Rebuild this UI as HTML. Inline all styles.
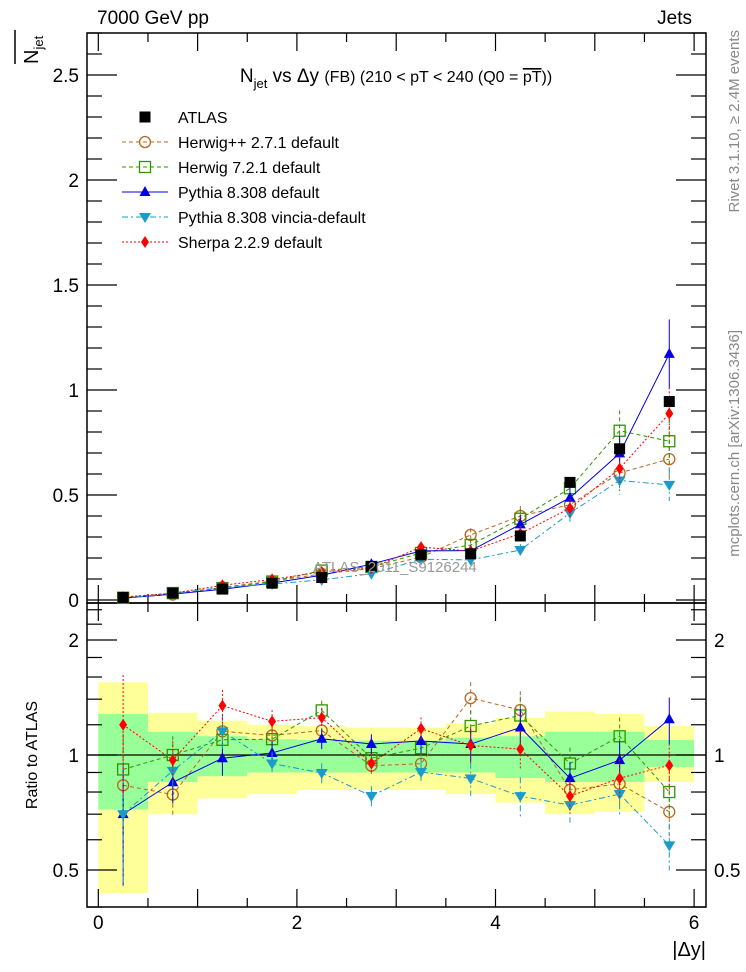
<!DOCTYPE html>
<html><head><meta charset="utf-8"><style>
html,body{margin:0;padding:0;background:#fff;}
svg{display:block;font-family:"Liberation Sans",sans-serif;}
</style></head><body>
<svg id="c" width="746" height="972" viewBox="0 0 746 972"></svg>
<script>
const binCenters=[0.25,0.75,1.25,1.75,2.25,2.75,3.25,3.75,4.25,4.75,5.25,5.75];
const atlasVals=[0.012,0.033,0.052,0.080,0.107,0.160,0.215,0.220,0.305,0.560,0.720,0.945];
const bandYellowUp=[1.55,1.29,1.23,1.20,1.19,1.18,1.18,1.21,1.25,1.30,1.28,1.19];
const bandYellowLo=[0.435,0.70,0.77,0.79,0.81,0.81,0.81,0.79,0.75,0.70,0.71,0.85];
const bandGreenUp=[1.28,1.15,1.12,1.10,1.095,1.09,1.09,1.11,1.12,1.15,1.15,1.095];
const bandGreenLo=[0.72,0.85,0.88,0.90,0.90,0.90,0.90,0.90,0.87,0.85,0.85,0.93];
const herwigppVals=[0.010,0.026,0.060,0.090,0.124,0.150,0.204,0.310,0.400,0.454,0.605,0.671];
const herwig7Vals=[0.011,0.033,0.057,0.088,0.140,0.157,0.224,0.262,0.387,0.532,0.806,0.756];
const pythiaVals=[0.0084,0.028,0.051,0.081,0.118,0.171,0.234,0.235,0.360,0.487,0.698,1.172];
const vinciaVals=[0.0084,0.030,0.060,0.076,0.096,0.125,0.194,0.191,0.238,0.414,0.569,0.548];
const sherpaVals=[0.0144,0.032,0.070,0.098,0.134,0.152,0.252,0.233,0.316,0.437,0.626,0.888];
const relErr=[0.35,0.12,0.10,0.07,0.06,0.06,0.07,0.10,0.12,0.10,0.12,0.14];
const mainYTicks=[0,0.5,1,1.5,2,2.5];
const mainYLabels=["0","0.5","1","1.5","2","2.5"];
const ratioTicks=[0.5,1,2];
const ratioLabels=["0.5","1","2"];
const xTicks=[0,2,4,6];
const xLabels=["0","2","4","6"];

const NS="http://www.w3.org/2000/svg";
const svg=document.getElementById('c');
const L=87,R=706,MT=33,MB=603,RB=907;
const X=v=>98.3+99.3*v;
const YM=v=>600-210*v;
const YR=r=>755-115*Math.log2(r);
function mk(tag,attrs,parent){const e=document.createElementNS(NS,tag);for(const k in attrs)e.setAttribute(k,attrs[k]);(parent||svg).appendChild(e);return e;}
function txt(s,attrs,parent){const e=mk('text',attrs,parent);e.textContent=s;return e;}

const gB=mk('g',{});


binCenters.forEach((c,i)=>{
 const r=mk('rect',{x:X(c-0.25),y:YR(bandYellowUp[i]),width:X(c+0.25)-X(c-0.25),height:YR(bandYellowLo[i])-YR(bandYellowUp[i]),fill:'#ffff99'},gB);
 
 
});
binCenters.forEach((c,i)=>{
 const r=mk('rect',{x:X(c-0.25),y:YR(bandGreenUp[i]),width:X(c+0.25)-X(c-0.25),height:YR(bandGreenLo[i])-YR(bandGreenUp[i]),fill:'#99ff99'},gB);
 
 
});
const one=mk('line',{x1:L,x2:R,y1:YR(1),y2:YR(1),stroke:'#000','stroke-width':1.2});



const f1=mk('rect',{x:L,y:MT,width:R-L,height:MB-MT,fill:'none',stroke:'#000','stroke-width':1.5});


const f2=mk('rect',{x:L,y:MB,width:R-L,height:RB-MB,fill:'none',stroke:'#000','stroke-width':1.5});



const gX=mk('g',{stroke:'#000','stroke-width':1.2});


for(let v=0;v<=6.01;v+=0.5){
 const big=Math.abs(v-Math.round(v))<0.01;
 const len=big?18:9;
 [[MT,1],[MB,-1],[MB,1],[RB,-1]].forEach(([y,d])=>mk('line',{x1:X(v),x2:X(v),y1:y,y2:y+d*len},gX));
}
xTicks.forEach((v,i)=>{const t=txt(xLabels[i],{x:X(v),y:929,'font-size':19,'text-anchor':'middle'});
 });
const gY=mk('g',{stroke:'#000','stroke-width':1.2});


for(let k=0;k<=27;k++){const v=k*0.1;const big=k%5==0;const len=big?30:15;
 mk('line',{x1:L,x2:L+len,y1:YM(v),y2:YM(v)},gY);mk('line',{x1:R,x2:R-len,y1:YM(v),y2:YM(v)},gY);}
mainYTicks.forEach((v,i)=>{const t=txt(mainYLabels[i],{x:79,y:YM(v)+7,'font-size':19,'text-anchor':'end'});
 });
const gRT=mk('g',{stroke:'#000','stroke-width':1.2});


[0.4,0.5,0.6,0.7,0.8,0.9,1,1.2,1.4,1.6,1.8,2,2.2,2.4].forEach(v=>{const big=(v==0.5||v==1||v==2);const len=big?30:15;
 mk('line',{x1:L,x2:L+len,y1:YR(v),y2:YR(v)},gRT);mk('line',{x1:R,x2:R-len,y1:YR(v),y2:YR(v)},gRT);});
ratioTicks.forEach((v,i)=>{
 const t=txt(ratioLabels[i],{x:79,y:YR(v)+7,'font-size':19,'text-anchor':'end'});
 
 const t2=txt(ratioLabels[i],{x:714,y:YR(v)+7,'font-size':19,'text-anchor':'start'});
 
});

const series=[
 {name:'herwigpp',vals:herwigppVals,color:'#b8661f',dash:'4,3',mk:'circle',label:'Herwig++ 2.7.1 default'},
 {name:'herwig7',vals:herwig7Vals,color:'#2e9400',dash:'4,3',mk:'square',label:'Herwig 7.2.1 default'},
 {name:'pythia',vals:pythiaVals,color:'#0000e6',dash:'',mk:'tri',label:'Pythia 8.308 default'},
 {name:'vincia',vals:vinciaVals,color:'#1a9bc8',dash:'6,3,2,3',mk:'tridown',label:'Pythia 8.308 vincia-default'},
 {name:'sherpa',vals:sherpaVals,color:'#ff0000',dash:'2,2',mk:'diamond',label:'Sherpa 2.2.9 default'}
];
function marker(type,x,y,color,g){
 if(type=='circle')return mk('circle',{cx:x,cy:y,r:5.5,fill:'none',stroke:color,'stroke-width':1.3},g);
 if(type=='square')return mk('rect',{x:x-5.5,y:y-5.5,width:11,height:11,fill:'none',stroke:color,'stroke-width':1.3},g);
 if(type=='tri')return mk('polygon',{points:`${x},${y-6} ${x-5.5},${y+4} ${x+5.5},${y+4}`,fill:color},g);
 if(type=='tridown')return mk('polygon',{points:`${x},${y+6} ${x-6},${y-4} ${x+6},${y-4}`,fill:color},g);
 if(type=='diamond')return mk('polygon',{points:`${x},${y-6} ${x-4},${y} ${x},${y+6} ${x+4},${y}`,fill:color},g);
 if(type=='sq')return mk('rect',{x:x-5.5,y:y-5.5,width:11,height:11,fill:color},g);
}
series.forEach(s=>{
 [['main',v=>YM(v),i=>s.vals[i],0],['ratio',v=>YR(v),i=>s.vals[i]/atlasVals[i],0.38]].forEach(([panel,Y,val,floor])=>{
  const g=mk('g',{});
  
  
  const pts=binCenters.map((c,i)=>X(c)+','+Y(val(i))).join(' ');
  const ln=mk('polyline',{points:pts,fill:'none',stroke:s.color,'stroke-width':1,'stroke-dasharray':s.dash},g);
  
  
  binCenters.forEach((c,i)=>{
   const v=val(i),e=v*relErr[i];
   const eb=mk('line',{x1:X(c),x2:X(c),y1:Y(v+e),y2:Y(Math.max(v-e,floor||0.0001)),stroke:s.color,'stroke-width':1,'stroke-dasharray':s.dash},g);
   
   
   const m=marker(s.mk,X(c),Y(v),s.color,g);
   
   
  });
 });
});
const gA=mk('g',{});


binCenters.forEach((c,i)=>{const m=marker('sq',X(c),YM(atlasVals[i]),'#000',gA);
 });

const gL=mk('g',{});


const a=marker('sq',145,117,'#000',gL);
const at=txt('ATLAS',{x:178,y:123,'font-size':16},gL);
series.forEach((s,k)=>{const y=142+k*25;
 const e=mk('g',{},gL);
 mk('line',{x1:122,x2:168,y1:y,y2:y,stroke:s.color,'stroke-width':1,'stroke-dasharray':s.dash},e);
 marker(s.mk,145,y,s.color,e);
 txt(s.label,{x:178,y:y+6,'font-size':16},e);
});

const T=(s,a,name)=>{const t=txt(s,a);return t;};
T('7000 GeV pp',{x:97,y:24,'font-size':19},'energy-label');
T('Jets',{x:692,y:24,'font-size':19,'text-anchor':'end'},'process-label');
const title=T('',{x:396,y:82,'font-size':19,'text-anchor':'middle'},'plot-title');
title.innerHTML='N<tspan font-size="13" dy="6">jet</tspan><tspan dy="-6"> vs Δy </tspan><tspan font-size="16">(FB) (210 &lt; pT &lt; 240 (Q0 = </tspan><tspan font-size="16" text-decoration="overline">pT</tspan><tspan font-size="16">))</tspan>';
const yl=T('',{transform:'translate(38,64) rotate(-90)','font-size':20},'y-axis-title');
yl.innerHTML='N<tspan font-size="13" dy="5">jet</tspan>';
const ov=mk('line',{x1:15,x2:15,y1:30,y2:64,stroke:'#000','stroke-width':1.5});

T('Ratio to ATLAS',{transform:'translate(37,755) rotate(-90)','font-size':16,'text-anchor':'middle'},'ratio-axis-title');
T('|Δy|',{x:706,y:956,'font-size':20,'text-anchor':'end'},'x-axis-title');
T('Rivet 3.1.10, ≥ 2.4M events',{transform:'translate(739,30) rotate(-90)','font-size':15,'text-anchor':'end',fill:'#888'},'rivet-version-label');
T('mcplots.cern.ch [arXiv:1306.3436]',{transform:'translate(739,330) rotate(-90)','font-size':15,'text-anchor':'end',fill:'#888'},'mcplots-label');
T('ATLAS_2011_S9126244',{x:313,y:572,'font-size':15,fill:'#999'},'analysis-watermark');
</script>
</body></html>
